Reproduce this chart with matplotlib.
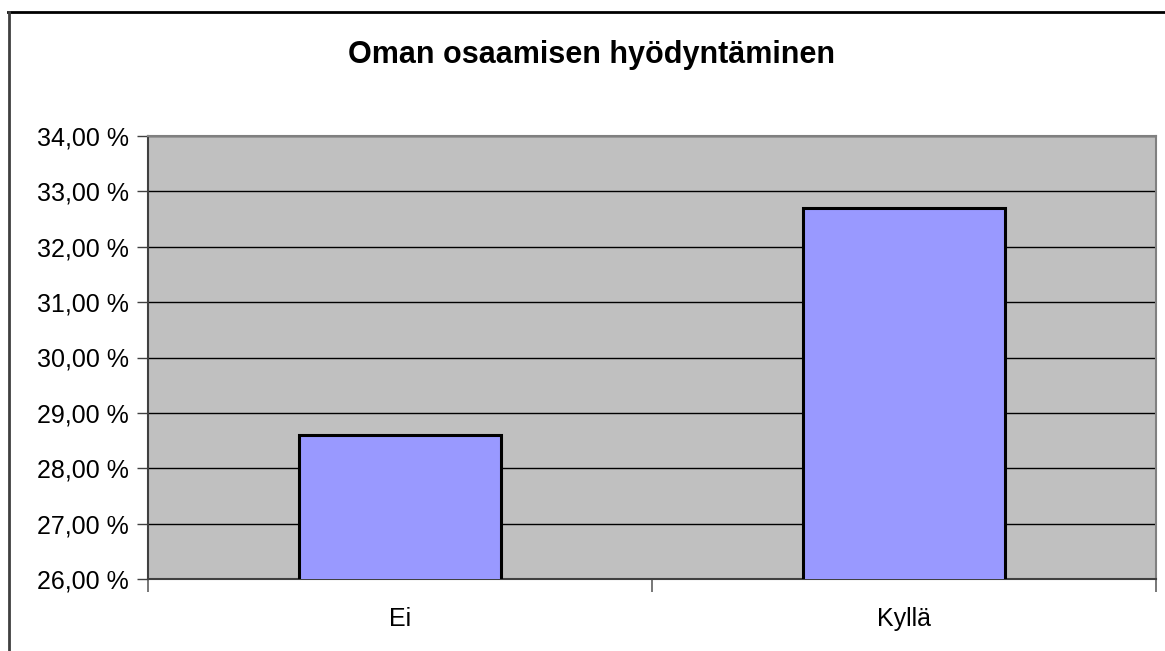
import numpy as np
import matplotlib.pyplot as plt
from matplotlib.lines import Line2D
from matplotlib.ticker import FuncFormatter, FixedLocator

categories = ["Ei", "Kyllä"]
values = [28.6, 32.7]
title = "Oman osaamisen hyödyntäminen"
y_ticks = [26, 27, 28, 29, 30, 31, 32, 33, 34]

plt.rcParams['font.family'] = ['Liberation Sans', 'DejaVu Sans']

W, H = 1165, 651
fig = plt.figure(figsize=(W / 100, H / 100), dpi=100)

# axes placed in pixel coords of the reference
left, right, top, bottom = 148, 1156, 136, 579
ax = fig.add_axes([left / W, (H - bottom) / H, (right - left) / W, (bottom - top) / H])
ax.set_facecolor("#C0C0C0")

x = np.arange(len(categories))
ax.bar(x, values, width=0.4, bottom=0, color="#9999FF", edgecolor="black",
       linewidth=2.2, zorder=3)
ax.set_xlim(-0.5, len(categories) - 0.5)
ax.set_ylim(y_ticks[0], y_ticks[-1])

ax.set_yticks(y_ticks)
ax.yaxis.set_major_formatter(FuncFormatter(lambda v, p: f"{v:.2f} %".replace(".", ",")))
ax.grid(axis="y", color="black", linewidth=1, zorder=1)
ax.set_axisbelow(True)

ax.set_xticks(x)
ax.set_xticklabels(categories)
ax.xaxis.set_minor_locator(FixedLocator([-0.5, 0.5, 1.5]))
ax.tick_params(axis="x", which="major", length=0, pad=20, labelsize=18)
ax.tick_params(axis="x", which="minor", length=9, width=1.2, color="#606060")
ax.tick_params(axis="y", length=8, width=1, color="#404040", labelsize=18, pad=6)

for s in ["top", "right"]:
    ax.spines[s].set_color("#808080")
    ax.spines[s].set_linewidth(1.5)
for s in ["left", "bottom"]:
    ax.spines[s].set_color("#404040")
    ax.spines[s].set_linewidth(1.5)

fig.text(591 / W, 1 - 55 / H, title, ha="center", va="center",
         fontsize=22, fontweight="bold")

# outer chart frame (cut by image edges on right/bottom)
fig.add_artist(Line2D([8 / W, 1.0], [1 - 12 / H, 1 - 12 / H], color="black",
                      linewidth=2, transform=fig.transFigure))
fig.add_artist(Line2D([9 / W, 9 / W], [0, 1 - 12 / H], color="#404040",
                      linewidth=2, transform=fig.transFigure))

fig.savefig("out.png", dpi=100)
